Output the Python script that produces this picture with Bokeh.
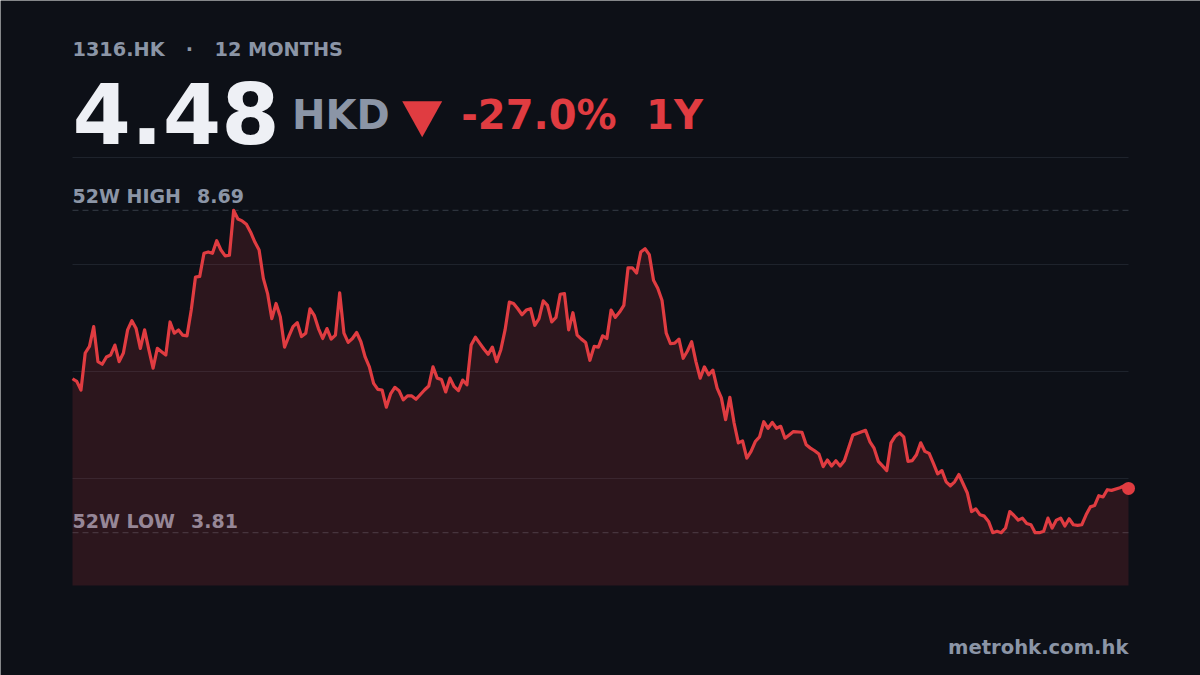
from bokeh.plotting import figure
from bokeh.models import Range1d, Label, PolyAnnotation, ColumnDataSource
from bokeh.embed import file_html
from bokeh.resources import INLINE
import numpy as np

# ---------------- data ----------------
TICKER = "1316.HK"
PERIOD = "12 MONTHS"
CURRENCY = "HKD"
CHANGE_PERIOD = "1Y"
SITE = "metrohk.com.hk"

days = [0, 1, 2, 3, 4, 5, 6, 7, 8, 9, 10, 11, 12, 13, 14, 15, 16, 17, 18, 19,
        20, 21, 22, 23, 24, 25, 26, 27, 28, 29, 30, 31, 32, 33, 34, 35, 36, 37, 38, 39,
        40, 41, 42, 43, 44, 45, 46, 47, 48, 49, 50, 51, 52, 53, 54, 55, 56, 57, 58, 59,
        60, 61, 62, 63, 64, 65, 66, 67, 68, 69, 70, 71, 72, 73, 74, 75, 76, 77, 78, 79,
        80, 81, 83, 84, 85, 86, 87, 88, 89, 90, 91, 92, 93, 94, 95, 96, 97, 98, 99,
        100, 101, 102, 103, 104, 105, 106, 107, 108, 109, 110, 111, 112, 113, 114, 115, 116, 117, 118, 119,
        120, 121, 122, 123, 124, 125, 126, 127, 128, 129, 130, 131, 132, 133, 134, 135, 136, 137, 138, 139,
        140, 141, 142, 143, 144, 145, 146, 147, 148, 149, 150, 151, 152, 153, 154, 155, 156, 157, 158, 159,
        160, 161, 162, 163, 164, 165, 166, 167, 168, 169, 170, 172, 173, 174, 175, 176, 177, 178, 179,
        180, 181, 182, 184, 185, 187, 188, 189, 190, 191, 192, 193, 194, 195, 196, 197, 198, 199,
        200, 201, 202, 203, 204, 205, 206, 207, 208, 209, 210, 211, 212, 213, 214, 215, 216, 217, 218, 219,
        220, 221, 222, 223, 224, 225, 226, 227, 228, 229, 230, 231, 232, 233, 234, 235, 236, 237, 238, 239,
        240, 241, 242, 243, 244, 245, 247, 248, 249]

prices = [6.14, 6.10, 5.97, 6.53, 6.63, 6.93, 6.40, 6.36, 6.47, 6.50, 6.65, 6.40, 6.53, 6.88, 7.02, 6.90, 6.60, 6.88, 6.58, 6.30,
          6.60, 6.55, 6.50, 7.00, 6.83, 6.88, 6.80, 6.79, 7.18, 7.68, 7.69, 8.04, 8.06, 8.04, 8.23, 8.09, 8.00, 8.01, 8.69, 8.56,
          8.53, 8.48, 8.36, 8.21, 8.09, 7.66, 7.43, 7.05, 7.28, 7.08, 6.62, 6.78, 6.93, 6.99, 6.78, 6.83, 7.20, 7.10, 6.90, 6.75,
          6.90, 6.74, 6.80, 7.44, 6.83, 6.69, 6.75, 6.84, 6.70, 6.47, 6.32, 6.07, 5.98, 5.97, 5.71, 5.91, 6.01, 5.96, 5.82, 5.88,
          5.88, 5.83, 5.97, 6.03, 6.32, 6.15, 6.13, 5.94, 6.15, 6.02, 5.96, 6.12, 6.05, 6.65, 6.77, 6.68, 6.59, 6.51, 6.62,
          6.40, 6.58, 6.88, 7.30, 7.28, 7.20, 7.11, 7.18, 7.20, 6.95, 7.05, 7.32, 7.25, 7.00, 7.07, 7.42, 7.43, 6.88, 7.14, 6.80,
          6.74, 6.69, 6.42, 6.63, 6.62, 6.79, 6.75, 7.18, 7.07, 7.15, 7.25, 7.82, 7.82, 7.74, 8.06, 8.11, 8.02, 7.63, 7.51, 7.33,
          6.83, 6.67, 6.68, 6.74, 6.45, 6.56, 6.70, 6.40, 6.15, 6.32, 6.20, 6.27, 6.00, 5.85, 5.52, 5.86, 5.47, 5.17, 5.20, 4.94,
          5.04, 5.19, 5.26, 5.49, 5.39, 5.48, 5.39, 5.42, 5.24, 5.29, 5.34, 5.33, 5.14, 5.09, 5.05, 5.00, 4.81, 4.91, 4.82,
          4.90, 4.82, 4.90, 5.29, 5.31, 5.36, 5.19, 5.09, 4.89, 4.82, 4.75, 5.17, 5.27, 5.32, 5.26, 4.89, 4.90, 4.99,
          5.17, 5.04, 5.01, 4.86, 4.70, 4.75, 4.58, 4.52, 4.58, 4.69, 4.55, 4.41, 4.13, 4.17, 4.08, 4.06, 3.98, 3.81, 3.83, 3.81,
          3.88, 4.13, 4.07, 4.00, 4.03, 3.95, 3.93, 3.81, 3.81, 3.83, 4.03, 3.88, 4.00, 4.03, 3.91, 4.02, 3.93, 3.92, 3.93, 4.08,
          4.20, 4.22, 4.37, 4.35, 4.46, 4.45, 4.49, 4.52, 4.48]

# ---------------- derived ----------------
last = prices[-1]
hi = max(prices)
lo = min(prices)
chg = (last / prices[0] - 1.0) * 100.0
pad = 0.80
y_lo, y_hi = lo - pad, hi + pad
grid_levels = list(np.linspace(y_lo, y_hi, 5))[1:]

# ---------------- layout ----------------
W, H = 1200, 675
CL, CR, CT, CB = 72, 1128, 157, 585          # chart box in pixels
xs = (CR - CL) / (days[-1] - days[0])         # px per day
ys = (CB - CT) / (y_hi - y_lo)                # px per price unit
x_start = days[0] - CL / xs
x_end = days[-1] + (W - CR) / xs
y_start = y_lo - (H - CB) / ys
y_end = y_hi + CT / ys

BG = "#0d1017"
GRAY = "#8b95a6"
RED = "#e03c41"
WHITE = "#eef0f5"
GRID = "#1e232c"
DASH = "#2d333d"
FONT = "DejaVu Sans"

src = ColumnDataSource(dict(day=days, price=prices, base=[y_lo] * len(days)))

p = figure(width=W, height=H, output_backend="svg", toolbar_location=None,
           x_range=Range1d(x_start, x_end), y_range=Range1d(y_start, y_end),
           x_axis_location=None, y_axis_location=None,
           min_border=0, min_border_left=0, min_border_right=0,
           min_border_top=0, min_border_bottom=0,
           background_fill_color=BG, border_fill_color=BG, outline_line_color=None)
p.grid.visible = False

# grid lines limited to the chart box
p.segment(x0=[days[0]] * len(grid_levels), x1=[days[-1]] * len(grid_levels),
          y0=grid_levels, y1=grid_levels, line_color=GRID, line_width=1, level="underlay")

# 52W high / low dashed guides
p.segment(x0=[days[0], days[0]], x1=[days[-1], days[-1]], y0=[hi, lo], y1=[hi, lo],
          line_color=DASH, line_width=1.2, line_dash="6 4", level="underlay")

BASE_SHIFT = 0.40   # empirical: rendered baseline sits this many em below the anchor


def lab(text, page_x, page_y, size, color, align="left", level="annotation"):
    """page_y is the desired alphabetic baseline measured from the top of the page."""
    return Label(x=page_x, y=H - page_y + BASE_SHIFT * size, x_units="screen", y_units="screen",
                 text=text, text_font=FONT, text_font_size=f"{size}px", text_font_style="bold",
                 text_color=color, text_align=align, text_baseline="alphabetic", level=level)


# range labels (under the area fill so that the fill tints them)
p.add_layout(lab("52W HIGH", CL, 203.5, 19, GRAY, level="underlay"))
p.add_layout(lab(f"{hi:.2f}", 196.5, 203.5, 19, GRAY, level="underlay"))
p.add_layout(lab("52W LOW", CL, 528.3, 19, GRAY, level="underlay"))
p.add_layout(lab(f"{lo:.2f}", 190.5, 528.3, 19, GRAY, level="underlay"))

p.varea(x="day", y1="base", y2="price", source=src, fill_color=RED, fill_alpha=0.15)
p.line(x="day", y="price", source=src, line_color=RED, line_width=3.2, line_join="round")
p.scatter(x=[days[-1]], y=[last], size=13, fill_color=RED, line_color=None)

# header
p.add_layout(lab(TICKER, CL, 57, 19.3, GRAY))
p.add_layout(lab("·", 189, 57, 19.3, GRAY, align="center"))
p.add_layout(lab(PERIOD, 214, 57, 19.3, GRAY))
p.add_layout(lab(f"{last:.2f}", CL, 146, 84, WHITE))
p.add_layout(lab(CURRENCY, 291.5, 130, 40, GRAY))
p.add_layout(PolyAnnotation(xs=[401.7, 441.7, 421.7], ys=[H - 100.7, H - 100.7, H - 136.7],
                            xs_units="screen", ys_units="screen",
                            fill_color=RED, fill_alpha=1.0, line_color=None))
p.add_layout(lab(f"{chg:.1f}%", 460.7, 130, 40, RED))
p.add_layout(lab(CHANGE_PERIOD, 645.6, 130, 40, RED))

# footer
p.add_layout(lab(SITE, CR, 655, 19.6, GRAY, align="right"))

open("out.html", "w").write(file_html(p, INLINE))
